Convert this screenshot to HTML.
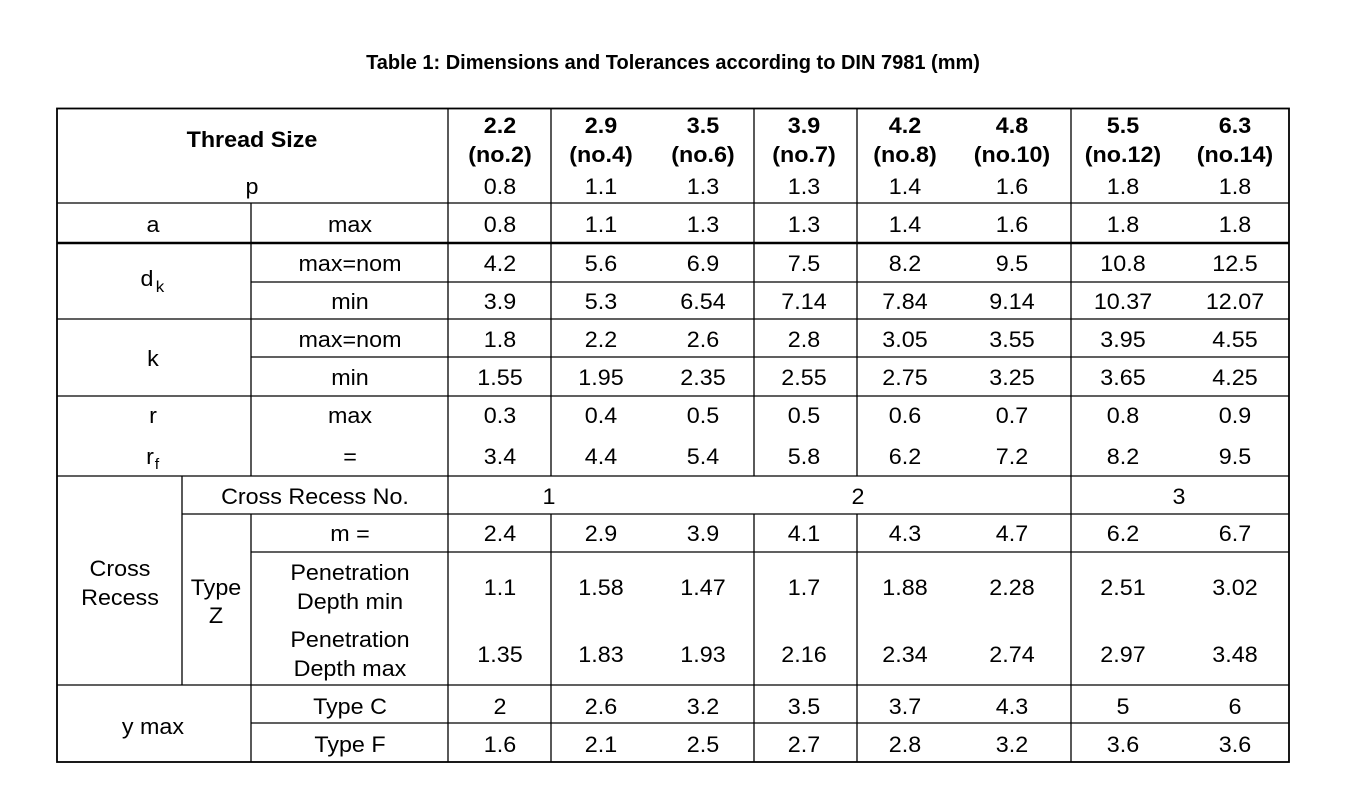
<!DOCTYPE html>
<html><head><style>
html,body{margin:0;padding:0;background:#fff;}
svg{display:block;}
text{font-family:"Liberation Sans",Arial,sans-serif;font-size:22px;fill:#000;text-anchor:middle;transform-box:fill-box;transform-origin:center;transform:scaleX(1.06);}
.b{font-weight:bold;}
.t{transform:none;}
</style></head><body>
<svg width="1358" height="796" viewBox="0 0 1358 796" xmlns="http://www.w3.org/2000/svg">
<text x="673" y="69" class="b t" style="font-size:20px">Table 1: Dimensions and Tolerances according to DIN 7981 (mm)</text>
<g stroke="#000" stroke-width="1.3" fill="none">
<rect x="57" y="108.5" width="1232" height="653.5" stroke-width="1.8"/>
<line x1="57" y1="203" x2="1289" y2="203"/>
<line x1="57" y1="243" x2="1289" y2="243" stroke-width="2.5"/>
<line x1="251" y1="282" x2="1289" y2="282"/>
<line x1="57" y1="319" x2="1289" y2="319"/>
<line x1="251" y1="357" x2="1289" y2="357"/>
<line x1="57" y1="396" x2="1289" y2="396"/>
<line x1="57" y1="476" x2="1289" y2="476"/>
<line x1="182" y1="514" x2="1289" y2="514"/>
<line x1="251" y1="552" x2="1289" y2="552"/>
<line x1="57" y1="685" x2="1289" y2="685"/>
<line x1="251" y1="723" x2="1289" y2="723"/>
<line x1="448" y1="108" x2="448" y2="762"/>
<line x1="1071" y1="108" x2="1071" y2="762"/>
<line x1="551" y1="108" x2="551" y2="476"/><line x1="551" y1="514" x2="551" y2="762"/>
<line x1="754" y1="108" x2="754" y2="476"/><line x1="754" y1="514" x2="754" y2="762"/>
<line x1="857" y1="108" x2="857" y2="476"/><line x1="857" y1="514" x2="857" y2="762"/>
<line x1="251" y1="203" x2="251" y2="476"/><line x1="251" y1="514" x2="251" y2="762"/>
<line x1="182" y1="476" x2="182" y2="685"/>
</g>
<text x="252" y="147" class="b">Thread Size</text>
<text x="252" y="194">p</text>
<text x="500" y="133" class="b">2.2</text><text x="500" y="162" class="b">(no.2)</text>
<text x="601" y="133" class="b">2.9</text><text x="601" y="162" class="b">(no.4)</text>
<text x="703" y="133" class="b">3.5</text><text x="703" y="162" class="b">(no.6)</text>
<text x="804" y="133" class="b">3.9</text><text x="804" y="162" class="b">(no.7)</text>
<text x="905" y="133" class="b">4.2</text><text x="905" y="162" class="b">(no.8)</text>
<text x="1012" y="133" class="b">4.8</text><text x="1012" y="162" class="b">(no.10)</text>
<text x="1123" y="133" class="b">5.5</text><text x="1123" y="162" class="b">(no.12)</text>
<text x="1235" y="133" class="b">6.3</text><text x="1235" y="162" class="b">(no.14)</text>
<text x="153" y="232">a</text><text x="350" y="232">max</text>
<text x="147" y="286">d</text><text x="160" y="292" style="font-size:16px">k</text>
<text x="350" y="271">max=nom</text><text x="350" y="309">min</text>
<text x="153" y="366">k</text>
<text x="350" y="347">max=nom</text><text x="350" y="385">min</text>
<text x="153" y="423">r</text><text x="350" y="423">max</text>
<text x="150" y="464">r</text><text x="157" y="469" style="font-size:15px">f</text><text x="350" y="464">=</text>
<text x="315" y="504">Cross Recess No.</text>
<text x="549" y="504">1</text><text x="858" y="504">2</text><text x="1179" y="504">3</text>
<text x="350" y="541">m =</text>
<text x="120" y="576">Cross</text><text x="120" y="605">Recess</text>
<text x="216" y="595">Type</text><text x="216" y="623">Z</text>
<text x="350" y="580">Penetration</text><text x="350" y="609">Depth min</text>
<text x="350" y="647">Penetration</text><text x="350" y="676">Depth max</text>
<text x="153" y="734">y max</text>
<text x="350" y="714">Type C</text><text x="350" y="752">Type F</text>
<text x="500" y="194">0.8</text><text x="601" y="194">1.1</text><text x="703" y="194">1.3</text><text x="804" y="194">1.3</text><text x="905" y="194">1.4</text><text x="1012" y="194">1.6</text><text x="1123" y="194">1.8</text><text x="1235" y="194">1.8</text>
<text x="500" y="232">0.8</text><text x="601" y="232">1.1</text><text x="703" y="232">1.3</text><text x="804" y="232">1.3</text><text x="905" y="232">1.4</text><text x="1012" y="232">1.6</text><text x="1123" y="232">1.8</text><text x="1235" y="232">1.8</text>
<text x="500" y="271">4.2</text><text x="601" y="271">5.6</text><text x="703" y="271">6.9</text><text x="804" y="271">7.5</text><text x="905" y="271">8.2</text><text x="1012" y="271">9.5</text><text x="1123" y="271">10.8</text><text x="1235" y="271">12.5</text>
<text x="500" y="309">3.9</text><text x="601" y="309">5.3</text><text x="703" y="309">6.54</text><text x="804" y="309">7.14</text><text x="905" y="309">7.84</text><text x="1012" y="309">9.14</text><text x="1123" y="309">10.37</text><text x="1235" y="309">12.07</text>
<text x="500" y="347">1.8</text><text x="601" y="347">2.2</text><text x="703" y="347">2.6</text><text x="804" y="347">2.8</text><text x="905" y="347">3.05</text><text x="1012" y="347">3.55</text><text x="1123" y="347">3.95</text><text x="1235" y="347">4.55</text>
<text x="500" y="385">1.55</text><text x="601" y="385">1.95</text><text x="703" y="385">2.35</text><text x="804" y="385">2.55</text><text x="905" y="385">2.75</text><text x="1012" y="385">3.25</text><text x="1123" y="385">3.65</text><text x="1235" y="385">4.25</text>
<text x="500" y="423">0.3</text><text x="601" y="423">0.4</text><text x="703" y="423">0.5</text><text x="804" y="423">0.5</text><text x="905" y="423">0.6</text><text x="1012" y="423">0.7</text><text x="1123" y="423">0.8</text><text x="1235" y="423">0.9</text>
<text x="500" y="464">3.4</text><text x="601" y="464">4.4</text><text x="703" y="464">5.4</text><text x="804" y="464">5.8</text><text x="905" y="464">6.2</text><text x="1012" y="464">7.2</text><text x="1123" y="464">8.2</text><text x="1235" y="464">9.5</text>
<text x="500" y="541">2.4</text><text x="601" y="541">2.9</text><text x="703" y="541">3.9</text><text x="804" y="541">4.1</text><text x="905" y="541">4.3</text><text x="1012" y="541">4.7</text><text x="1123" y="541">6.2</text><text x="1235" y="541">6.7</text>
<text x="500" y="595">1.1</text><text x="601" y="595">1.58</text><text x="703" y="595">1.47</text><text x="804" y="595">1.7</text><text x="905" y="595">1.88</text><text x="1012" y="595">2.28</text><text x="1123" y="595">2.51</text><text x="1235" y="595">3.02</text>
<text x="500" y="662">1.35</text><text x="601" y="662">1.83</text><text x="703" y="662">1.93</text><text x="804" y="662">2.16</text><text x="905" y="662">2.34</text><text x="1012" y="662">2.74</text><text x="1123" y="662">2.97</text><text x="1235" y="662">3.48</text>
<text x="500" y="714">2</text><text x="601" y="714">2.6</text><text x="703" y="714">3.2</text><text x="804" y="714">3.5</text><text x="905" y="714">3.7</text><text x="1012" y="714">4.3</text><text x="1123" y="714">5</text><text x="1235" y="714">6</text>
<text x="500" y="752">1.6</text><text x="601" y="752">2.1</text><text x="703" y="752">2.5</text><text x="804" y="752">2.7</text><text x="905" y="752">2.8</text><text x="1012" y="752">3.2</text><text x="1123" y="752">3.6</text><text x="1235" y="752">3.6</text>
</svg>
</body></html>
